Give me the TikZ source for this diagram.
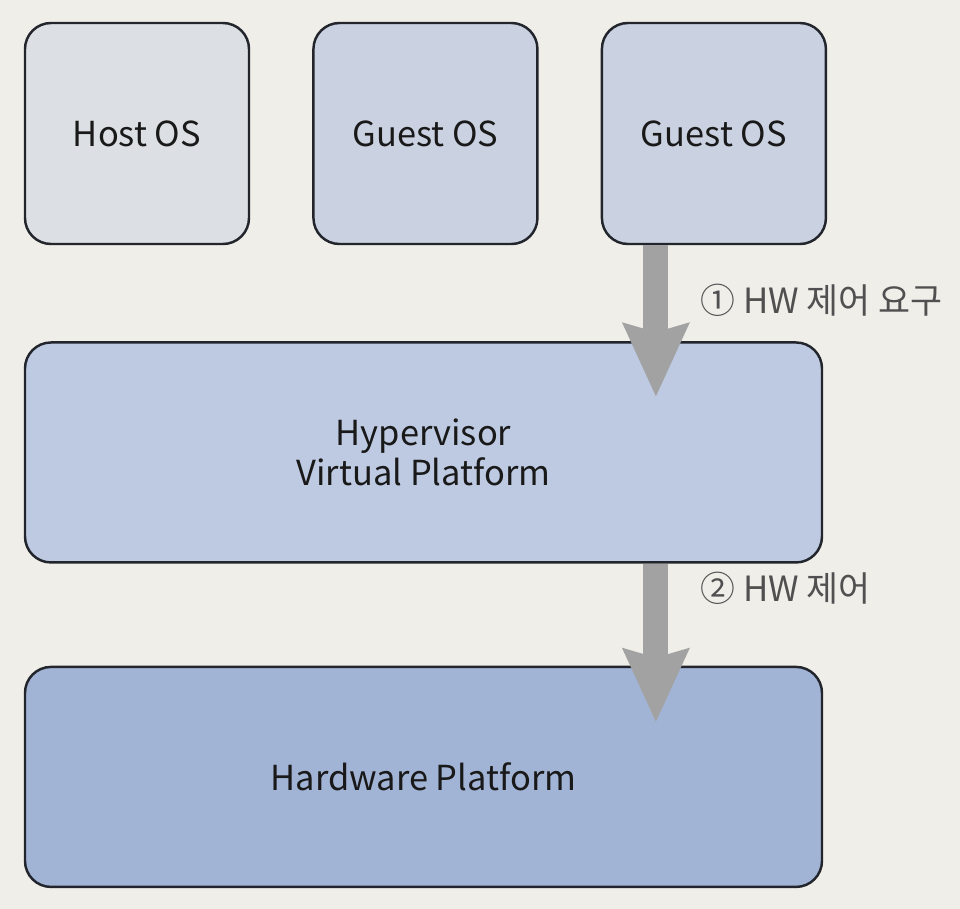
\documentclass[tikz,border=0pt]{standalone}
\usepackage{fontspec}
\setmainfont{Noto Sans CJK KR}
\usepackage{tikz}
\usetikzlibrary{positioning,arrows.meta}
\definecolor{paper}{HTML}{EFEEE9}
\definecolor{boxline}{HTML}{22252C}
\definecolor{hostfill}{HTML}{DCDFE3}
\definecolor{guestfill}{HTML}{CAD2E1}
\definecolor{hypfill}{HTML}{BDCAE2}
\definecolor{hwfill}{HTML}{A2B4D6}
\definecolor{arrowgray}{HTML}{A2A2A2}
\definecolor{labelgray}{HTML}{505050}

\begin{document}
\begin{tikzpicture}[node distance=0.62cm,font=\fontsize{9.8}{11.3}\selectfont]
    \tikzset{osbox/.style={draw=boxline,line width=0.7pt,rectangle,rounded corners=0.26cm,
        minimum width=2.24cm,minimum height=2.21cm,inner sep=0pt,text=black!90}}
    \tikzset{layer/.style={osbox,minimum width=7.97cm,minimum height=2.2cm,align=center}}
    \tikzset{hwarrow/.style={draw=arrowgray,line width=0.25cm,
        -{Stealth[length=0.74cm,width=0.68cm,inset=0.1cm,line width=0pt]}}}
    \tikzset{steplabel/.style={anchor=west,inner sep=0pt,text=labelgray,font=\fontsize{9.9}{11}\selectfont}}
    \fill[paper] (0,0) rectangle (9.6,-9.09);
    \useasboundingbox (0,0) rectangle (9.6,-9.09);
    % top row
    \node[osbox,fill=hostfill] (host) at (1.37,-1.335) {Host OS};
    \node[osbox,fill=guestfill] (guest1) [right = of host] {Guest OS};
    \node[osbox,fill=guestfill] (guest2) [right = of guest1] {Guest OS};
    % layers
    \node[layer,fill=hypfill] (hyp) [below = 0.96cm of host.south west, anchor=north west]
        {Hypervisor\\Virtual Platform};
    \node[layer,fill=hwfill] (hw) [below = 1.02cm of hyp.south west, anchor=north west]
        {Hardware Platform};
    % arrows
    \coordinate (a1s) at ([xshift=-0.58cm]guest2.south);
    \coordinate (a1e) at ([yshift=-0.55cm]a1s |- hyp.north);
    \coordinate (a2s) at (a1s |- hyp.south);
    \coordinate (a2e) at ([yshift=-0.56cm]a1s |- hw.north);
    \draw[hwarrow] (a1s) -- (a1e);
    \draw[hwarrow] (a2s) -- (a2e);
    \node[steplabel] (l1) at (7.0,-3.0) {① HW 제어 요구};
    \node[steplabel] (l2) at (7.0,-5.88) {② HW 제어};
\end{tikzpicture}
\end{document}
